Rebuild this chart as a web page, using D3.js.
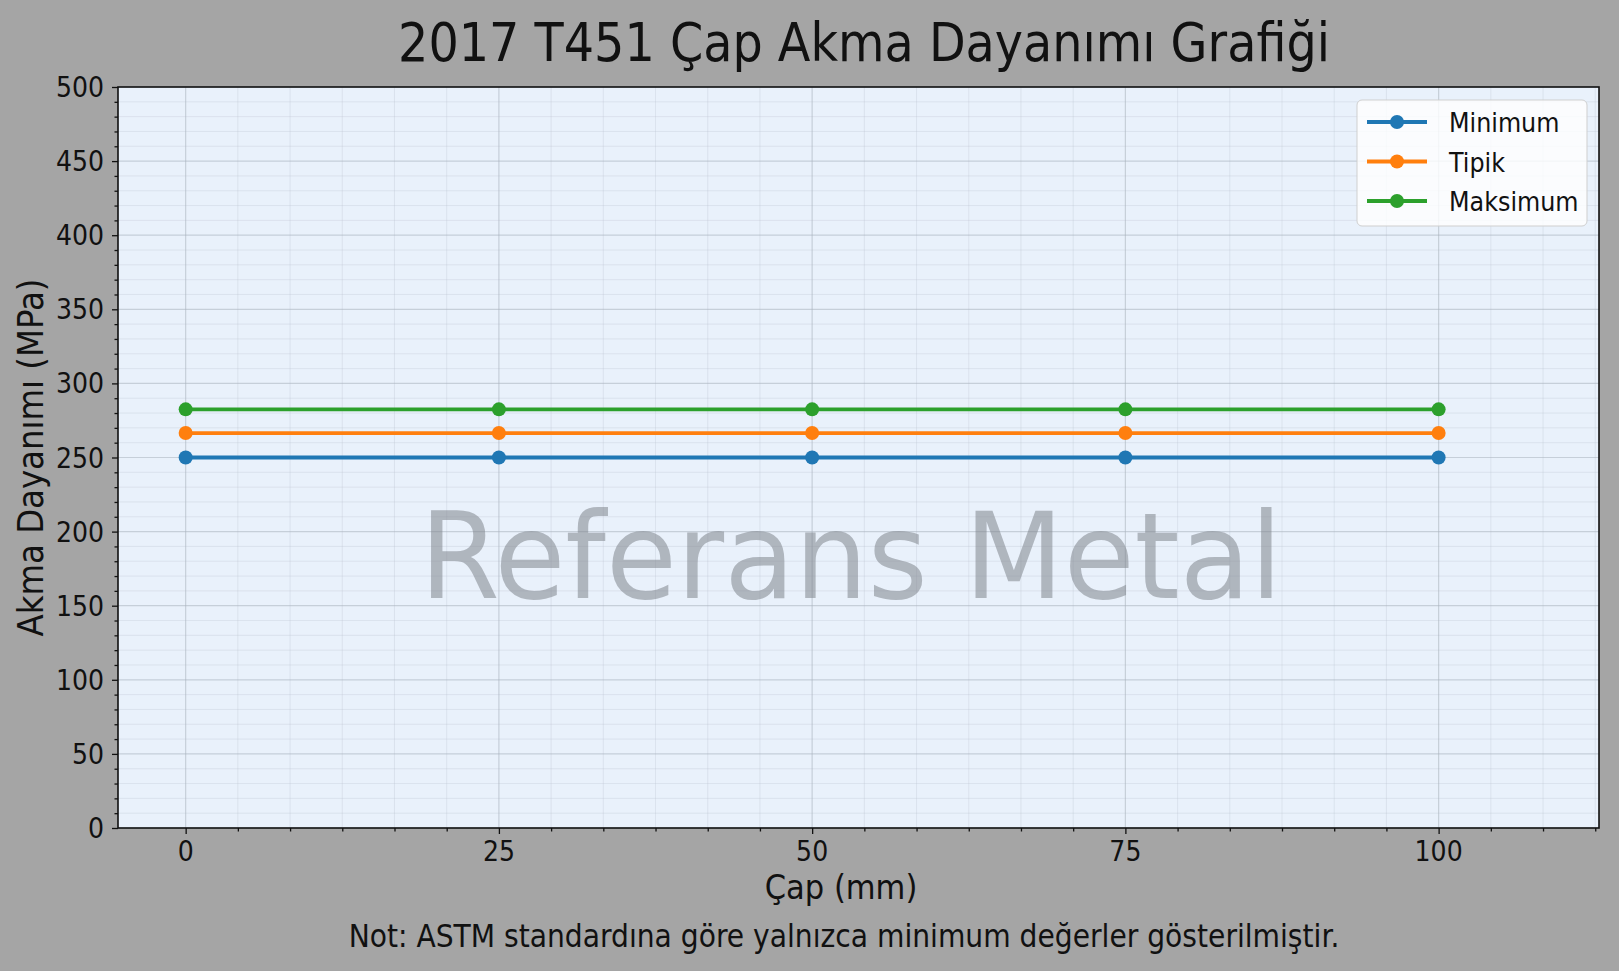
<!DOCTYPE html>
<html>
<head>
<meta charset="utf-8">
<script src="https://cdn.jsdelivr.net/npm/d3@7"></script>
<style>
  body { margin: 0; background: #a5a5a5; }
  text { font-family: "DejaVu Sans", sans-serif; fill: #111; }
</style>
</head>
<body>
<div id="plot"></div>
<script>
// Data
var diameters = [0, 25, 50, 75, 100];
var minimumValues = [250, 250, 250, 250, 250];
var typicalValues = [266.5, 266.5, 266.5, 266.5, 266.5];
var maximumValues = [282.5, 282.5, 282.5, 282.5, 282.5];
var seriesNames = ["Minimum", "Tipik", "Maksimum"];
var seriesColors = ["#1f77b4", "#ff7f0e", "#2ca02c"];
var xTickValues = [0, 25, 50, 75, 100];
var yTickValues = [0, 50, 100, 150, 200, 250, 300, 350, 400, 450, 500];

var W = 1619, H = 971;
var margin = {top: 87, right: 20, bottom: 143, left: 118},
    width = W - margin.left - margin.right,
    height = H - margin.top - margin.bottom;

// fonts look condensed in the reference, squeeze along the text direction
var SQ = 0.9;

var svg = d3.select("#plot")
  .append("svg")
    .attr("width", W)
    .attr("height", H);

svg.append("rect")
  .attr("width", W).attr("height", H)
  .attr("fill", "#a5a5a5");

function label(parent, x, y, str, size, anchor, rot, sq) {
  return parent.append("text")
    .attr("transform", `translate(${x},${y})` + (rot ? ` rotate(${rot})` : "") + ` scale(${sq || SQ},1)`)
    .attr("text-anchor", anchor || "middle")
    .style("font-size", size + "px")
    .text(str);
}

var g = svg.append("g")
  .attr("transform", `translate(${margin.left},${margin.top})`);

var x = d3.scaleLinear().domain([-5.4, 112.8]).range([0, width]);
var y = d3.scaleLinear().domain([0, 500]).range([height, 0]);

var xMinor = d3.range(0, 113, 25 / 6).filter(v => Math.abs(v / 25 - Math.round(v / 25)) > 1e-6);
var yMinor = d3.range(0, 501, 10).filter(v => v % 50 !== 0);

// plot background
g.append("rect")
  .attr("width", width).attr("height", height)
  .attr("fill", "#e9f1fb");

// grid
var grid = g.append("g");
grid.selectAll(".vminor").data(xMinor).enter().append("line")
  .attr("x1", d => x(d)).attr("x2", d => x(d))
  .attr("y1", 0).attr("y2", height)
  .attr("stroke", "#b8c0cc").attr("stroke-opacity", 0.3).attr("stroke-width", 1);
grid.selectAll(".hminor").data(yMinor).enter().append("line")
  .attr("x1", 0).attr("x2", width)
  .attr("y1", d => y(d)).attr("y2", d => y(d))
  .attr("stroke", "#b8c0cc").attr("stroke-opacity", 0.3).attr("stroke-width", 1);
grid.selectAll(".vmajor").data(xTickValues).enter().append("line")
  .attr("x1", d => x(d)).attr("x2", d => x(d))
  .attr("y1", 0).attr("y2", height)
  .attr("stroke", "#aab2bd").attr("stroke-opacity", 0.55).attr("stroke-width", 1.2);
grid.selectAll(".hmajor").data(yTickValues).enter().append("line")
  .attr("x1", 0).attr("x2", width)
  .attr("y1", d => y(d)).attr("y2", d => y(d))
  .attr("stroke", "#aab2bd").attr("stroke-opacity", 0.55).attr("stroke-width", 1.2);

// watermark
g.append("text")
  .attr("transform", `translate(${851 - margin.left},${y(155)}) scale(0.968,1)`)
  .attr("text-anchor", "middle")
  .style("font-size", "119px")
  .style("fill", "#80858d")
  .style("fill-opacity", 0.55)
  .text("Referans Metal");

// series
var series = [minimumValues, typicalValues, maximumValues].map((vals, i) => ({
  name: seriesNames[i],
  color: seriesColors[i],
  values: diameters.map((d, j) => ({x: d, y: vals[j]}))
}));

var line = d3.line().x(d => x(d.x)).y(d => y(d.y));

series.forEach(s => {
  g.append("path")
    .datum(s.values)
    .attr("fill", "none")
    .attr("stroke", s.color)
    .attr("stroke-width", 3.8)
    .attr("d", line);
  g.selectAll(null).data(s.values).enter().append("circle")
    .attr("cx", d => x(d.x))
    .attr("cy", d => y(d.y))
    .attr("r", 7)
    .attr("fill", s.color);
});

// axes
var xAxis = g.append("g").attr("transform", `translate(0,${height})`)
  .call(d3.axisBottom(x).tickValues(xTickValues).tickSize(6).tickFormat(""));
xAxis.append("g").call(d3.axisBottom(x).tickValues(xMinor).tickSize(3.5).tickFormat(""));
var yAxis = g.append("g")
  .call(d3.axisLeft(y).tickValues(yTickValues).tickSize(6).tickFormat(""));
yAxis.append("g").call(d3.axisLeft(y).tickValues(yMinor).tickSize(3.5).tickFormat(""));
g.selectAll(".domain").remove();
g.selectAll(".tick line").attr("stroke", "#111").attr("stroke-width", 1.3);

xTickValues.forEach(v => label(g, x(v), height + 33, d3.format("d")(v), 28));
yTickValues.forEach(v => label(g, -14, y(v) + 10, d3.format("d")(v), 28, "end"));

// frame
g.append("rect")
  .attr("width", width).attr("height", height)
  .attr("fill", "none")
  .attr("stroke", "#111")
  .attr("stroke-width", 1.6);

// legend
var legend = g.append("g")
  .attr("transform", `translate(${1357 - margin.left},${100 - margin.top})`);
legend.append("rect")
  .attr("width", 230).attr("height", 126)
  .attr("rx", 5)
  .attr("fill", "#ffffff").attr("fill-opacity", 0.8)
  .attr("stroke", "#cfcfcf");
series.forEach((s, i) => {
  var row = legend.append("g").attr("transform", `translate(0,${22 + i * 39.5})`);
  row.append("line")
    .attr("x1", 10).attr("x2", 70)
    .attr("stroke", s.color).attr("stroke-width", 3.8);
  row.append("circle").attr("cx", 40).attr("r", 7).attr("fill", s.color);
  label(row, 92, 10, s.name, 26.5, "start");
});

// titles
label(svg, 864, 61, "2017 T451 Çap Akma Dayanımı Grafiği", 53);
label(svg, 841, 899, "Çap (mm)", 34);
label(svg, 43, margin.top + height / 2, "Akma Dayanımı (MPa)", 36, "middle", -90);
label(svg, 844, 947, "Not: ASTM standardına göre yalnızca minimum değerler gösterilmiştir.", 31.3);
</script>
</body>
</html>
